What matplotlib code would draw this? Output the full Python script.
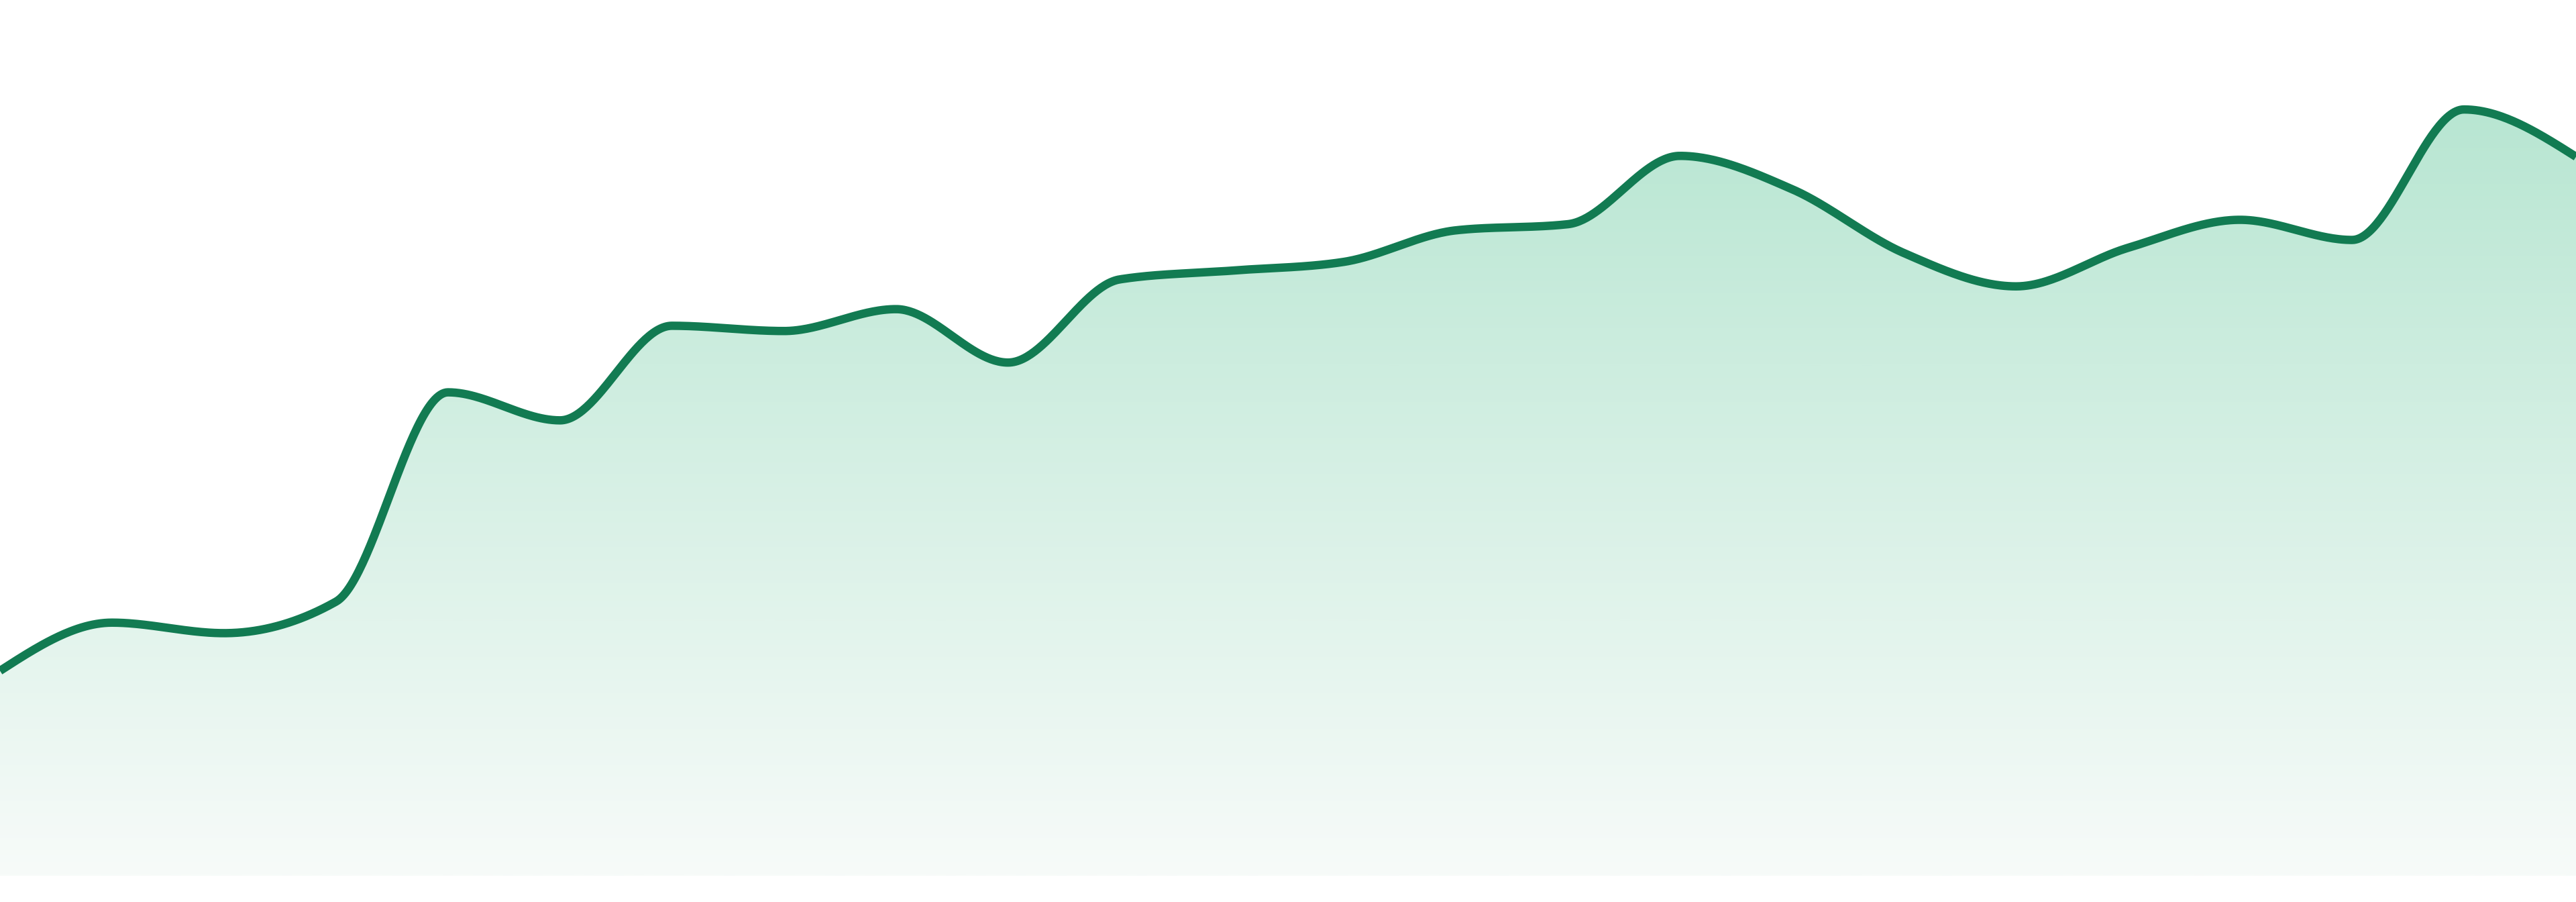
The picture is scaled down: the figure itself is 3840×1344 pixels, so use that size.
import numpy as np
import matplotlib
matplotlib.use("Agg")
import matplotlib.pyplot as plt
from matplotlib.path import Path
from matplotlib.patches import PathPatch
from matplotlib.colors import LinearSegmentedColormap

# ---- data ----
periods = list(range(24))
values = [23.4, 28.9, 27.7, 31.3, 55.2, 52.0, 62.8, 62.2, 64.7, 58.6,
          68.1, 69.1, 70.1, 73.7, 74.4, 82.2, 78.4, 71.1, 67.3, 71.7,
          74.9, 72.6, 87.5, 82.1]

line_color = "#127b52"
fill_top = "#b8e6d2"
fill_bottom = "#f7fbf9"


def monotone_x(x, y, n=60):
    """Monotone cubic interpolation (d3 curveMonotoneX style)."""
    x = np.asarray(x, float)
    y = np.asarray(y, float)
    m = len(x)
    h = np.diff(x)
    s = np.diff(y) / h
    t = np.zeros(m)
    for i in range(1, m - 1):
        h0, h1 = h[i - 1], h[i]
        s0, s1 = s[i - 1], s[i]
        p = (s0 * h1 + s1 * h0) / (h0 + h1)
        t[i] = (np.sign(s0) + np.sign(s1)) * min(abs(s0), abs(s1), 0.5 * abs(p))
    t[0] = (3 * s[0] - t[1]) / 2
    t[-1] = (3 * s[-1] - t[-2]) / 2
    xs, ys = [], []
    u = np.linspace(0, 1, n)
    for i in range(m - 1):
        dx = h[i]
        p0 = np.array([x[i], y[i]])
        p1 = np.array([x[i] + dx / 3, y[i] + dx * t[i] / 3])
        p2 = np.array([x[i + 1] - dx / 3, y[i + 1] - dx * t[i + 1] / 3])
        p3 = np.array([x[i + 1], y[i + 1]])
        uu = u if i == 0 else u[1:]
        b = ((1 - uu) ** 3)[:, None] * p0 + (3 * (1 - uu) ** 2 * uu)[:, None] * p1 \
            + (3 * (1 - uu) * uu ** 2)[:, None] * p2 + (uu ** 3)[:, None] * p3
        xs.append(b[:, 0])
        ys.append(b[:, 1])
    return np.concatenate(xs), np.concatenate(ys)


cx, cy = monotone_x(periods, values)

fig = plt.figure(figsize=(38.4, 13.44), dpi=100)
ax = fig.add_axes([0, 0, 1, 1])
ax.set_xlim(periods[0], periods[-1])
ax.set_ylim(-3.0, 100.0)
ax.axis("off")

# gradient fill clipped to area under the curve
verts = np.column_stack([np.concatenate([cx, [cx[-1], cx[0]]]),
                         np.concatenate([cy, [0.0, 0.0]])])
clip = PathPatch(Path(verts), facecolor="none", edgecolor="none")
ax.add_patch(clip)
cmap = LinearSegmentedColormap.from_list("g", [fill_bottom, fill_top])
grad = np.linspace(0, 1, 512).reshape(-1, 1)
im = ax.imshow(grad, cmap=cmap, aspect="auto", origin="lower",
               extent=[periods[0], periods[-1], 0, max(values)],
               interpolation="bilinear", zorder=1)
im.set_clip_path(clip)

ax.plot(cx, cy, color=line_color, lw=9.0, solid_capstyle="butt",
        solid_joinstyle="round", zorder=3)

fig.savefig("out.png", dpi=100, facecolor="white")
